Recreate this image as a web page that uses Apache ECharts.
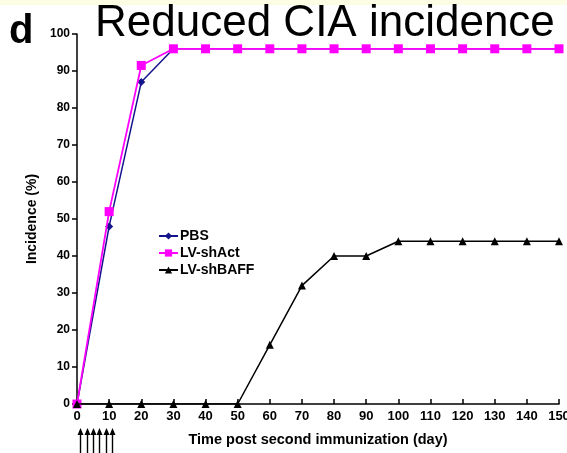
<!DOCTYPE html>
<html>
<head>
<meta charset="utf-8">
<script src="https://cdn.jsdelivr.net/npm/echarts@6/dist/echarts.min.js"></script>
<style>
  html, body { margin: 0; padding: 0; background: #fff; }
  #chart { width: 567px; height: 453px; }
</style>
</head>
<body>
<div id="chart"></div>
<script>
// days after second immunization
var days = [0, 10, 20, 30, 40, 50, 60, 70, 80, 90, 100, 110, 120, 130, 140, 150]
var pbs = [0, 48, 87, 96, 96, 96, 96, 96, 96, 96, 96, 96, 96, 96, 96, 96]
var shAct = [0, 52, 91.5, 96, 96, 96, 96, 96, 96, 96, 96, 96, 96, 96, 96, 96]
var shBAFF = [0, 0, 0, 0, 0, 0, 16, 32, 40, 40, 44, 44, 44, 44, 44, 44]
// injection days marked with arrows under the axis
var arrowDays = [1, 3, 5, 7, 9, 11]

function pairs(vals) {
  return days.map(function (d, i) { return [d, vals[i]] })
}

var font = 'Liberation Sans, Arial, sans-serif'
var chart = echarts.init(document.getElementById('chart'), null, { renderer: 'canvas' })

var option = {
  backgroundColor: '#fff',
  animation: false,
  textStyle: { fontFamily: font },
  graphic: [
    { type: 'rect', shape: { x: 0, y: 0, width: 567, height: 5 }, style: { fill: '#fdfde6' } },
    { type: 'text', left: 9, top: 12, style: { text: 'd', font: 'bold 40px ' + font, fill: '#000' } },
    { type: 'text', left: 95, top: 2, style: { text: 'Reduced CIA incidence', font: '44px ' + font, fill: '#000' } }
  ],
  legend: {
    data: ['PBS', 'LV-shAct', 'LV-shBAFF'],
    orient: 'vertical',
    left: 153,
    top: 224,
    itemGap: 3,
    itemWidth: 19,
    itemHeight: 9,
    textStyle: { fontSize: 14, fontWeight: 'bold', color: '#000', fontFamily: font, padding: [0, 0, 0, -3] }
  },
  grid: { left: 77, right: 8, top: 34, bottom: 49, containLabel: false, outerBoundsMode: 'none' },
  xAxis: {
    type: 'value',
    min: 0,
    max: 150,
    interval: 10,
    name: 'Time post second immunization (day)',
    nameLocation: 'middle',
    nameGap: 28,
    nameTextStyle: { fontSize: 14.5, fontWeight: 'bold', color: '#000' },
    axisLine: { lineStyle: { color: '#000', width: 1.5 } },
    axisTick: { inside: true, length: 5, lineStyle: { color: '#000', width: 1.5 } },
    axisLabel: { fontSize: 13, fontWeight: 'bold', color: '#000', margin: 6 },
    splitLine: { show: false }
  },
  yAxis: {
    type: 'value',
    min: 0,
    max: 100,
    interval: 10,
    name: 'Incidence (%)',
    nameLocation: 'middle',
    nameGap: 37,
    nameTextStyle: { fontSize: 14, fontWeight: 'bold', color: '#000' },
    axisLine: { show: true, lineStyle: { color: '#000', width: 1.5 } },
    axisTick: { show: true, length: 5, lineStyle: { color: '#000', width: 1.5 } },
    axisLabel: { fontSize: 12, fontWeight: 'bold', color: '#000', margin: 7 },
    splitLine: { show: false }
  },
  series: [
    {
      name: 'PBS', type: 'line', data: pairs(pbs),
      symbol: 'diamond', symbolSize: 8,
      lineStyle: { color: '#14148c', width: 1.5 },
      itemStyle: { color: '#14148c' },
      z: 2
    },
    {
      name: 'LV-shAct', type: 'line', data: pairs(shAct),
      symbol: 'rect', symbolSize: 9,
      lineStyle: { color: '#ff00ff', width: 1.8 },
      itemStyle: { color: '#ff00ff' },
      z: 3
    },
    {
      name: 'LV-shBAFF', type: 'line', data: pairs(shBAFF),
      symbol: 'triangle', symbolSize: 8,
      lineStyle: { color: '#000', width: 1.5 },
      itemStyle: { color: '#000' },
      z: 4
    },
    {
      name: 'arrows', type: 'custom', clip: false, silent: true,
      data: arrowDays.map(function (d) { return [d, 0] }),
      renderItem: function (params, api) {
        var p = api.coord([api.value(0), 0])
        var x = Math.round(p[0]) + 0.5
        var top = p[1] + 24
        var bot = p[1] + 49
        return {
          type: 'group',
          children: [
            { type: 'line', shape: { x1: x, y1: top + 3, x2: x, y2: bot }, style: { stroke: '#000', lineWidth: 1.4 } },
            { type: 'polygon', shape: { points: [[x, top], [x - 3, top + 7], [x + 3, top + 7]] }, style: { fill: '#000' } }
          ]
        }
      }
    }
  ]
}

chart.setOption(option)
</script>
</body>
</html>
